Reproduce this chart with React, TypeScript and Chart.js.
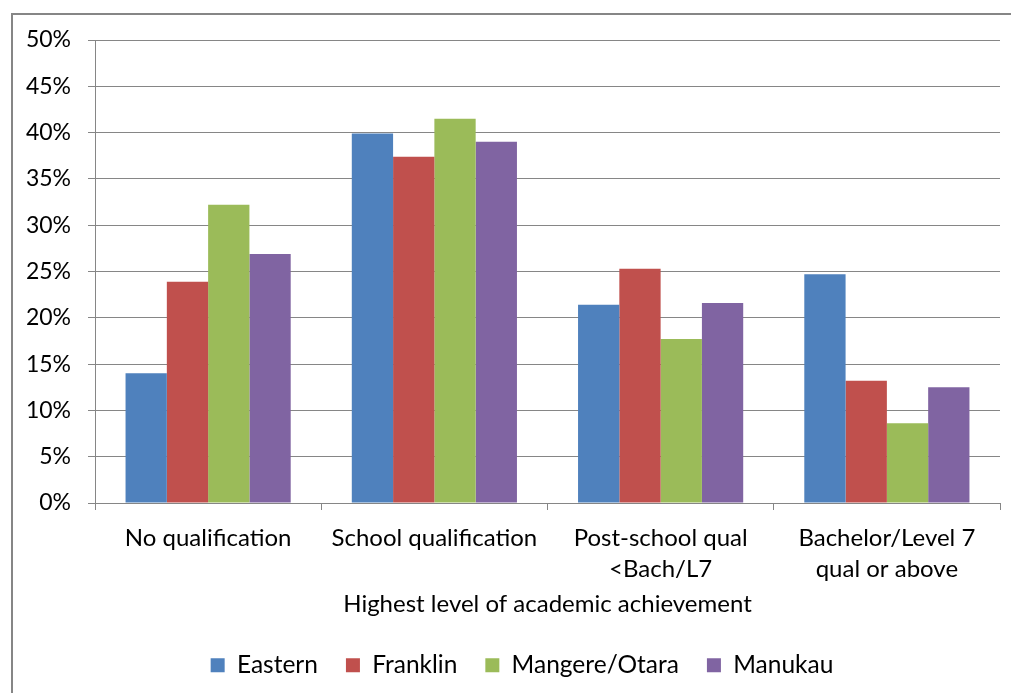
import React, { useEffect, useRef } from "react";
import { Chart, registerables } from "chart.js";

Chart.register(...registerables);

const categories: (string | string[])[] = [
  "No qualification",
  "School qualification",
  ["Post-school qual", "<Bach/L7"],
  ["Bachelor/Level 7", "qual or above"],
];
const eastern = [14.0, 39.9, 21.4, 24.7];
const franklin = [23.9, 37.4, 25.3, 13.2];
const mangereOtara = [32.2, 41.5, 17.7, 8.6];
const manukau = [26.9, 39.0, 21.6, 12.5];
const seriesNames = ["Eastern", "Franklin", "Mangere/Otara", "Manukau"];
const seriesColors = ["#4F81BD", "#C0504D", "#9BBB59", "#8064A2"];
const xTitle = "Highest level of academic achievement";

const FONT = "Lato, 'Liberation Sans', sans-serif";

const framePlugin = {
  id: "frame",
  afterLayout(chart: any) {
    const lg = chart.legend;
    if (lg) {
      lg.left += 22;
      lg.right += 22;
    }
  },
  beforeDraw(chart: any) {
    const ctx = chart.ctx;
    ctx.save();
    ctx.fillStyle = "#ffffff";
    ctx.fillRect(0, 0, chart.width, chart.height);
    ctx.strokeStyle = "#868686";
    ctx.lineWidth = 2;
    ctx.strokeRect(12, 14, chart.width + 20, chart.height + 20);
    ctx.restore();
  },
};

export default function App() {
  const ref = useRef<HTMLCanvasElement>(null);
  useEffect(() => {
    if (!ref.current) return;
    const values = [eastern, franklin, mangereOtara, manukau];
    const chart = new Chart(ref.current, {
      type: "bar",
      data: {
        labels: categories,
        datasets: seriesNames.map((name, i) => ({
          label: name,
          data: values[i],
          backgroundColor: seriesColors[i],
          borderWidth: 0,
          categoryPercentage: 0.73,
          barPercentage: 1,
        })),
      },
      options: {
        animation: false,
        responsive: false,
        maintainAspectRatio: false,
        layout: { padding: { left: 0, top: 40, right: 11, bottom: 5.5 } },
        plugins: {
          legend: {
            position: "bottom",
            labels: {
              boxWidth: 14,
              boxHeight: 14,
              padding: 28,
              color: "#000",
              font: { family: FONT, size: 24.5 },
            },
          },
          tooltip: { enabled: false },
        },
        scales: {
          x: {
            afterFit(scale: any) {
              scale.height = 122;
            },
            grid: {
              drawOnChartArea: false,
              drawTicks: true,
              tickLength: 7,
              color: "#868686",
            },
            border: { color: "#868686", width: 1 },
            ticks: {
              color: "#000",
              maxRotation: 0,
              autoSkip: false,
              padding: 13,
              font: { family: FONT, size: 24, lineHeight: 1.29 },
            },
            title: {
              display: true,
              text: xTitle,
              color: "#000",
              font: { family: FONT, size: 24, lineHeight: 1.2 },
              padding: { top: 6, bottom: 6 },
            },
          },
          y: {
            min: 0,
            max: 50,
            afterFit(scale: any) {
              scale.width = 95;
            },
            grid: { color: "#868686", tickLength: 7, lineWidth: 1 },
            border: { color: "#868686", width: 1 },
            ticks: {
              stepSize: 5,
              color: "#000",
              padding: 17,
              font: { family: FONT, size: 23 },
              callback: (v: any) => v + "%",
            },
          },
        },
      },
      plugins: [framePlugin],
    });
    return () => chart.destroy();
  }, []);
  return (
    <div style={{ position: "fixed", left: 0, top: 0, width: 1011, height: 693 }}>
      <canvas ref={ref} width={1011} height={693} />
    </div>
  );
}
